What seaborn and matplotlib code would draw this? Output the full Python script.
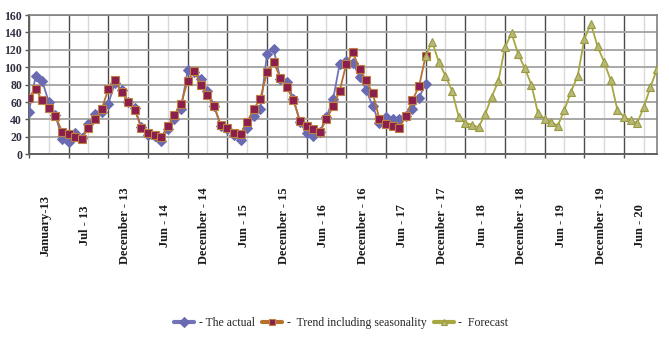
import numpy as np
import pandas as pd
import matplotlib
matplotlib.use("Agg")
import matplotlib.pyplot as plt
import seaborn as sns

# ---- data ----
actual = [49, 90, 84, 60, 45, 18, 14, 25, 19, 35,
          46, 49, 58, 82, 74, 60, 53, 31, 22, 21,
          15, 29, 41, 52, 97, 95, 87, 73, 56, 32,
          29, 22, 16, 30, 44, 52, 115, 121, 87, 83,
          64, 37, 24, 21, 26, 43, 63, 104, 107, 105,
          89, 74, 55, 36, 43, 41, 41, 44, 52, 65,
          81]
trend = [65, 75, 62, 53, 44, 26, 23, 20, 18, 30,
         40, 52, 75, 85, 72, 60, 51, 30, 25, 22,
         20, 32, 45, 58, 84, 96, 80, 68, 55, 34,
         30, 25, 23, 37, 52, 64, 94, 106, 88, 77,
         62, 38, 32, 29, 26, 40, 55, 73, 104, 117,
         98, 85, 70, 41, 35, 32, 30, 44, 62, 78,
         113]
forecast = [113, 129, 106, 90, 73, 43, 36, 34, 31, 46,
            66, 84, 123, 139, 115, 99, 80, 47, 41, 37,
            33, 51, 72, 90, 132, 150, 124, 106, 85, 51,
            43, 39, 36, 54, 77, 98]
forecast_start = 60
tick_labels = ["January-13", "Jul - 13", "December - 13", "Jun - 14",
               "December - 14", "Jun - 15", "December - 15", "Jun - 16",
               "December - 16", "Jun - 17", "December - 17", "Jun - 18",
               "December - 18", "Jun - 19", "December - 19", "Jun - 20"]
series_names = ["- The actual", "-  Trend including seasonality", "-  Forecast"]

df_a = pd.DataFrame({"month": np.arange(len(actual)), "value": actual})
df_t = pd.DataFrame({"month": np.arange(len(trend)), "value": trend})
df_f = pd.DataFrame({"month": np.arange(len(forecast)) + forecast_start, "value": forecast})

sns.set_theme(style="white")
plt.rcParams["font.family"] = ["Liberation Serif", "DejaVu Serif"]

fig = plt.figure(figsize=(6.69, 3.40), dpi=100)
ax = fig.add_axes([29 / 669, 1 - 154.3 / 340, 628 / 669, 139.3 / 340])

sns.lineplot(data=df_a, x="month", y="value", ax=ax, color="#7272B8", linewidth=1.3,
             marker="D", markersize=5, markerfacecolor="#6A6AB2", markeredgecolor="#6A6AB2",
             label=series_names[0], zorder=3)
sns.lineplot(data=df_t, x="month", y="value", ax=ax, color="#B8702E", linewidth=1.3,
             marker="s", markersize=5.5, markerfacecolor="#8A1E4E", markeredgecolor="#C08040",
             markeredgewidth=0.8, label=series_names[1], zorder=4)
sns.lineplot(data=df_f, x="month", y="value", ax=ax, color="#A8A840", linewidth=1.3,
             marker="^", markersize=6, markerfacecolor="#B8B878", markeredgecolor="#9A9A40",
             markeredgewidth=0.8, label=series_names[2], zorder=5)

n_months = len(actual) + len(forecast) - 1
ax.set_xlim(0, n_months - 1)
ax.set_ylim(0, 160)
ax.set_yticks(np.arange(0, 161, 20))
ax.set_xticks(np.arange(0, n_months, 6))
ax.set_xticks(np.arange(0, n_months, 3), minor=True)
ax.set_xticklabels([])
ax.set_xlabel("")
ax.set_ylabel("")

ax.grid(which="minor", axis="x", color="#D8D8D8", linewidth=1.0, zorder=0)
ax.grid(which="major", axis="x", color="#4A4A4A", linewidth=1.0, zorder=1)
ax.grid(which="major", axis="y", color="#A8A8A8", linewidth=1.4, zorder=1)
ax.set_axisbelow(True)

ax.tick_params(axis="x", which="major", direction="out", length=3, width=1, color="#555555", bottom=True)
ax.tick_params(axis="x", which="minor", length=0)
ax.tick_params(axis="y", which="major", direction="out", length=3, width=1, color="#555555",
               left=True, pad=2, labelsize=8.5, labelcolor="#303040")
for lab in ax.get_yticklabels():
    lab.set_fontweight("bold")

for side in ["left", "bottom"]:
    ax.spines[side].set_color("#606060")
    ax.spines[side].set_linewidth(1.4)
for side in ["top", "right"]:
    ax.spines[side].set_color("#808080")
    ax.spines[side].set_linewidth(1.2)

tr = ax.get_xaxis_transform()
for k, lab in enumerate(tick_labels):
    ax.text(6 * k + 2.5, -0.51, lab, transform=tr, rotation=90, ha="center", va="center",
            fontsize=9, fontweight="bold", color="#1a1a1a")

handles, labels = ax.get_legend_handles_labels()
ax.get_legend().remove()
leg = fig.legend(handles, labels, loc="center", bbox_to_anchor=(0.51, 0.05), ncol=3,
                 frameon=False, fontsize=8.5, handlelength=1.7, handletextpad=0.4,
                 columnspacing=0.6)
for line in leg.get_lines():
    line.set_linewidth(3)
    line.set_markersize(5)

fig.savefig("out.png", dpi=100)
